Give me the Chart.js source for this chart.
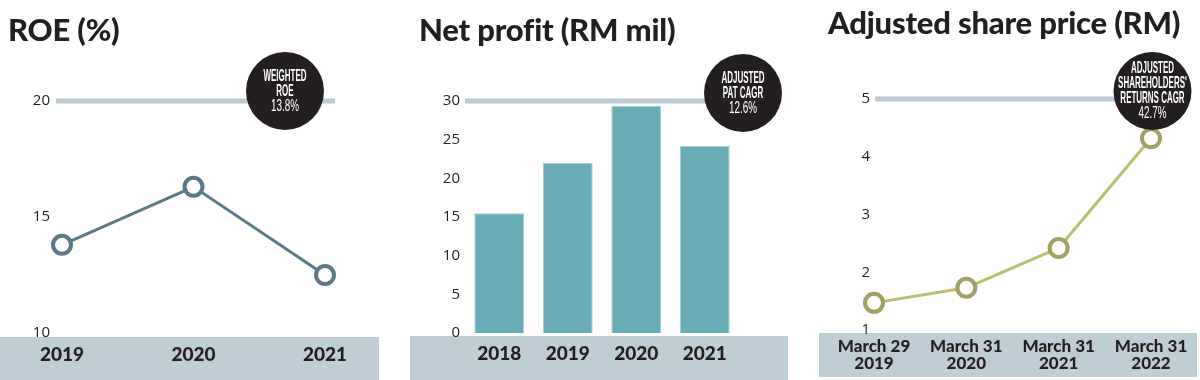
<!DOCTYPE html>
<html>
<head>
<meta charset="utf-8">
<script src="https://cdn.jsdelivr.net/npm/chart.js@4/dist/chart.umd.min.js"></script>
<style>
  html, body { margin: 0; padding: 0; background: #ffffff; }
  body { width: 1200px; height: 380px; position: relative; overflow: hidden; }
  .panel { position: absolute; top: 0; height: 380px; }
  .title { position: absolute; font-family: Lato, "Open Sans", sans-serif; font-weight: 900; font-size: 31px; line-height: 31px; color: #231f20; white-space: nowrap; letter-spacing: -0.2px; }
  canvas { position: absolute; top: 0; left: 0; }
</style>
</head>
<body>
<div class="panel" style="left:0;width:380px;"><canvas id="c1" width="380" height="380"></canvas></div>
<div class="panel" style="left:400px;width:400px;"><canvas id="c2" width="400" height="380"></canvas></div>
<div class="panel" style="left:800px;width:400px;"><canvas id="c3" width="400" height="380"></canvas></div>
<div class="title" style="left:8px;top:14px;">ROE (%)</div>
<div class="title" style="left:419px;top:14px;">Net profit (RM mil)</div>
<div class="title" style="left:828px;top:7px;">Adjusted share price (RM)</div>
<script>
// ---- data ----
const roeYears = ['2019', '2020', '2021'];
const roeValues = [13.8, 16.3, 12.5];
const roeTicks = [10, 15, 20];
const roeBadge = ['WEIGHTED', 'ROE', '13.8%'];

const profitYears = ['2018', '2019', '2020', '2021'];
const profitValues = [15.5, 22.0, 29.4, 24.2];
const profitTicks = [0, 5, 10, 15, 20, 25, 30];
const profitBadge = ['ADJUSTED', 'PAT CAGR', '12.6%'];

const priceDates = [['March 29', '2019'], ['March 31', '2020'], ['March 31', '2021'], ['March 31', '2022']];
const priceValues = [1.47, 1.73, 2.42, 4.32];
const priceTicks = [1, 2, 3, 4, 5];
const priceBadge = ['ADJUSTED', "SHAREHOLDERS'", 'RETURNS CAGR', '42.7%'];

// ---- styling ----
const BAND = '#bfcdd4';
const REFLINE = '#bccbd3';
const INK = '#231f20';
const BADGE_FONT = '"Liberation Sans", "DejaVu Sans", sans-serif';

const decor = {
  id: 'decor',
  beforeDraw(chart, args, o) {
    const ctx = chart.ctx;
    const ca = chart.chartArea;
    ctx.save();
    ctx.fillStyle = BAND;
    ctx.fillRect(o.band[0], o.band[1], o.band[2] - o.band[0], o.band[3] - o.band[1]);
    const y = chart.scales.y.getPixelForValue(chart.scales.y.max);
    ctx.strokeStyle = REFLINE;
    ctx.lineWidth = 5;
    ctx.beginPath();
    ctx.moveTo(ca.left + o.lineExt[0], y);
    ctx.lineTo(ca.right + o.lineExt[1], y);
    ctx.stroke();
    ctx.restore();
  },
  afterDatasetsDraw(chart, args, o) {
    const ctx = chart.ctx;
    const ca = chart.chartArea;
    const y = chart.scales.y.getPixelForValue(chart.scales.y.max);
    const cx = ca.right + o.badgeOff[0];
    const cy = y + o.badgeOff[1];
    ctx.save();
    ctx.fillStyle = '#231f20';
    ctx.beginPath();
    ctx.arc(cx, cy, 39, 0, Math.PI * 2);
    ctx.fill();
    ctx.fillStyle = '#ffffff';
    ctx.textAlign = 'center';
    ctx.textBaseline = 'middle';
    const size = 16.5;
    ctx.font = '700 ' + size + 'px ' + BADGE_FONT;
    const sxWord = 43 / ctx.measureText('ADJUSTED').width;
    ctx.font = '400 ' + size + 'px ' + BADGE_FONT;
    const sxNum = 28 / ctx.measureText('13.8%').width;
    const lines = o.text;
    const lh = 15;
    const y0 = cy - (lines.length - 1) * lh / 2;
    lines.forEach((t, i) => {
      const isNum = /^[0-9]/.test(t);
      ctx.save();
      ctx.translate(cx, y0 + i * lh);
      ctx.scale(isNum ? sxNum : sxWord, 1);
      ctx.font = (isNum ? '400 ' : '700 ') + size + 'px ' + BADGE_FONT;
      ctx.fillText(t, 0, 0);
      ctx.restore();
    });
    ctx.restore();
  }
};

function yAxis(ticks, width, pad) {
  return {
    min: ticks[0], max: ticks[ticks.length - 1],
    afterFit(s) { s.width = width; },
    afterBuildTicks(s) { s.ticks = ticks.map(v => ({ value: v })); },
    grid: { display: false, drawTicks: false },
    border: { display: false },
    ticks: { padding: pad, color: INK, font: { family: '"Open Sans", sans-serif', size: 15, weight: '400' } }
  };
}
function xAxis(height, pad, fontSize, lh) {
  return {
    afterFit(s) { s.height = height; },
    grid: { display: false, drawTicks: false },
    border: { display: false },
    ticks: { padding: pad, color: INK, maxRotation: 0, autoSkip: false,
      font: { family: 'Lato, "Open Sans", sans-serif', size: fontSize, weight: '900', lineHeight: lh } }
  };
}
const common = {
  responsive: false, animation: false, devicePixelRatio: 1,
  plugins: { legend: { display: false }, tooltip: { enabled: false }, title: { display: false } },
  events: []
};

new Chart(document.getElementById('c1'), {
  type: 'line',
  data: { labels: roeYears, datasets: [{
    data: roeValues, borderColor: '#5b7985', borderWidth: 3,
    pointRadius: 9, pointBorderWidth: 4, pointBackgroundColor: '#ffffff', pointBorderColor: '#5b7985',
    tension: 0, clip: false
  }] },
  options: Object.assign({}, common, {
    layout: { padding: { top: 101, right: 55, left: 0, bottom: 0 } },
    scales: { x: xAxis(47, 10, 19, 1.2), y: yAxis(roeTicks, 62, 12) },
    plugins: Object.assign({}, common.plugins, {
      decor: { band: [0, 337, 379, 380], lineExt: [-6, 10], badgeOff: [-40, -10], text: roeBadge }
    })
  }),
  plugins: [decor]
});

new Chart(document.getElementById('c2'), {
  type: 'bar',
  data: { labels: profitYears, datasets: [{
    data: profitValues, backgroundColor: '#6aabb8', borderColor: '#a3cdd6', borderWidth: { top: 1, left: 1, right: 1, bottom: 0 },
    categoryPercentage: 1, barPercentage: 0.728
  }] },
  options: Object.assign({}, common, {
    layout: { padding: { top: 101, right: 61, left: 0, bottom: 0 } },
    scales: { x: xAxis(47, 9, 19, 1.2), y: yAxis(profitTicks, 65, 5) },
    plugins: Object.assign({}, common.plugins, {
      decor: { band: [10, 336, 388, 380], lineExt: [0, 0], badgeOff: [4, -8], text: profitBadge }
    })
  }),
  plugins: [decor]
});

new Chart(document.getElementById('c3'), {
  type: 'line',
  data: { labels: priceDates, datasets: [{
    data: priceValues, borderColor: '#b9bf6e', borderWidth: 3,
    pointRadius: 9, pointBorderWidth: 4, pointBackgroundColor: '#ffffff', pointBorderColor: '#a29f63',
    tension: 0, clip: false
  }] },
  options: Object.assign({}, common, {
    layout: { padding: { top: 99, right: 49, left: 0, bottom: 0 } },
    scales: { x: xAxis(50, 8, 17, 1.0), y: yAxis(priceTicks, 74, 4) },
    plugins: Object.assign({}, common.plugins, {
      decor: { band: [19, 333, 397, 377], lineExt: [1, -20], badgeOff: [1.5, -8], text: priceBadge }
    })
  }),
  plugins: [decor]
});
</script>
</body>
</html>
